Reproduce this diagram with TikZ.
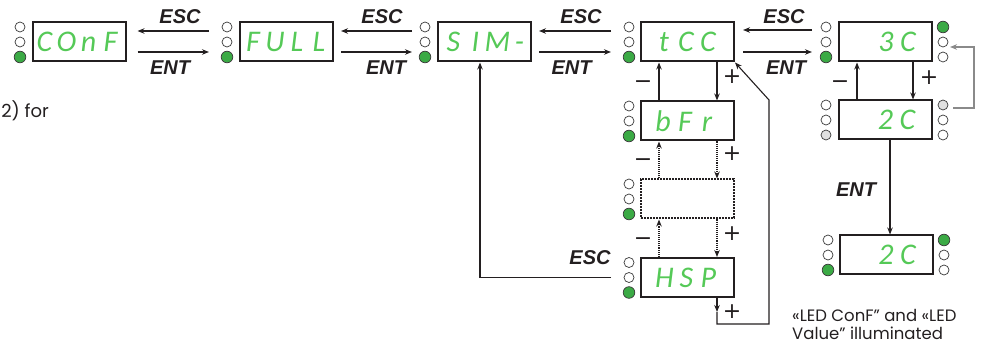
\documentclass[tikz,border=0pt]{standalone}
\usepackage{fontspec}
\usetikzlibrary{arrows.meta,calc}
\setmainfont{Liberation Sans}
\newfontfamily\labfont{Liberation Sans}
\newfontfamily\segfont{Carlito}
\newfontfamily\signfont{DejaVu Sans}
\newfontfamily\notefont{Poppins}
\definecolor{linec}{HTML}{231F20}
\definecolor{segc}{HTML}{55C957}
\definecolor{ledg}{HTML}{3BAA45}
\definecolor{ledgr}{HTML}{E0E0E0}
\definecolor{ledline}{HTML}{3A3A3A}
\definecolor{loopc}{HTML}{8A8A8A}
\newcommand\cell[1]{\makebox[22pt]{#1}}
\newcommand\ledcol[5]{%
  \path[#3] (#1,#2-15) circle;
  \path[#4] (#1,#2) circle;
  \path[#5] (#1,#2+15) circle;}
\tikzset{
  ln/.style={draw=linec,line width=1.1pt},
  arr/.style={ln,-{Stealth[length=7pt,width=5.5pt]}},
  darr/.style={arr,densely dotted,line width=1.2pt},
  disp/.style={draw=linec,line width=2pt,minimum width=93pt,minimum height=39pt,inner sep=0pt},
  dotdisp/.style={disp,densely dotted},
  seg/.style={text=segc,font=\segfont\itshape\fontsize{30}{30}\selectfont,inner sep=0pt},
  key/.style={font=\labfont\bfseries\itshape\fontsize{20}{20}\selectfont,text=linec,inner sep=0pt},
  sign/.style={font=\signfont\fontsize{22}{22}\selectfont,text=linec,inner sep=0pt},
  note/.style={font=\notefont\fontsize{16.5}{18}\selectfont,align=left,inner sep=0pt,text=linec},
  off/.style={draw=ledline,fill=white,line width=0.7pt,radius=5pt},
  on/.style={draw=ledline,fill=ledg,line width=0.7pt,radius=5.8pt},
  gr/.style={draw=ledline,fill=ledgr,line width=0.7pt,radius=5pt},
}
\begin{document}
\begin{tikzpicture}[x=1pt,y=-1pt]
\useasboundingbox (0,0) rectangle (993,347);
% display boxes
\node[disp] (conf) at (79,42) {};
\node[disp] (full) at (286.5,42) {};
\node[disp] (sim) at (484.5,42) {};
\node[disp] (tcc) at (687.5,42) {};
\node[disp] (bfr) at (687.5,121) {};
\node[dotdisp] (dot) at (687.5,199) {};
\node[disp] (hsp) at (687.5,277.5) {};
\node[disp] (c3) at (885.5,42) {};
\node[disp] (c2) at (885.5,120) {};
\node[disp] (c2b) at (886.5,255) {};
% display texts
\node[seg] (conft) at (77.5,42) {\cell{C}\cell{O}\cell{n}\cell{F}};
\node[seg] (fullt) at (286,42) {\cell{F}\cell{U}\cell{L}\cell{L}};
\node[seg] (simt) at (486.5,42) {\cell{S}\cell{I}\cell{M}\cell{-}};
\node[seg] (tcct) at (686,42) {\cell{t}\cell{C}\cell{C}};
\node[seg] (bfrt) at (685,121) {\cell{b}\cell{F}\cell{r}};
\node[seg] (hspt) at (686.5,277.5) {\cell{H}\cell{S}\cell{P}};
\node[seg] (c3t) at (897,42) {\cell{3}\cell{C}};
\node[seg] (c2t) at (896.5,120) {\cell{2}\cell{C}};
\node[seg] (c2bt) at (897,255) {\cell{2}\cell{C}};
% LEDs
\ledcol{20}{42}{off}{off}{on}
\ledcol{227}{42}{off}{off}{on}
\ledcol{425}{42}{off}{off}{on}
\ledcol{629}{42}{off}{off}{on}
\ledcol{629}{121}{off}{off}{on}
\ledcol{629}{199}{off}{off}{on}
\ledcol{629}{277.5}{off}{off}{on}
\ledcol{826}{42}{off}{off}{on}
\ledcol{943}{42}{on}{off}{off}
\ledcol{826}{120}{off}{off}{gr}
\ledcol{943}{120}{gr}{off}{off}
\ledcol{828}{255}{off}{off}{on}
\ledcol{944}{255}{on}{off}{off}
% ESC / ENT arrows along top
\draw[arr] ($(full.west)+(-30,-11)$) -- ($(conf.east)+(11,-11)$);
\draw[arr] ($(conf.east)+(11,10)$) -- ($(full.west)+(-30,10)$);
\draw[arr] ($(sim.west)+(-25,-11)$) -- ($(full.east)+(7,-11)$);
\draw[arr] ($(full.east)+(7,10)$) -- ($(sim.west)+(-25,10)$);
\draw[arr] ($(tcc.west)+(-29,-11)$) -- ($(sim.east)+(7,-11)$);
\draw[arr] ($(sim.east)+(7,10)$) -- ($(tcc.west)+(-29,10)$);
\draw[arr] ($(c3.west)+(-26,-12)$) -- ($(tcc.east)+(8,-12)$);
\draw[arr] ($(tcc.east)+(8,10)$) -- ($(c3.west)+(-26,10)$);
\node[key] (esc1) at (180,17) {ESC};
\node[key] (ent1) at (170,68) {ENT};
\node[key] (esc2) at (382,17) {ESC};
\node[key] (ent2) at (386,68) {ENT};
\node[key] (esc3) at (581,17) {ESC};
\node[key] (ent3) at (571.5,68) {ENT};
\node[key] (esc4) at (784,17) {ESC};
\node[key] (ent4) at (786,68) {ENT};
% tCC column
\draw[arr] (bfr.north -| 659,0) -- (tcc.south -| 659,0);
\draw[arr] (tcc.south -| 717,0) -- (bfr.north -| 717,0);
\draw[darr] (dot.north -| 659,0) -- (bfr.south -| 659,0);
\draw[darr] (bfr.south -| 717,0) -- (dot.north -| 717,0);
\draw[darr] (hsp.north -| 659,0) -- (dot.south -| 659,0);
\draw[darr] (dot.south -| 717,0) -- (hsp.north -| 717,0);
\coordinate (hd) at (717,312);
\draw[arr] (hsp.south -| 717,0) -- (hd);
\draw[arr] (hd) -- (717,324) -- (769,324) -- (769,100) -- (tcc.south east);
\node[sign] (m1) at (643,85) {−};
\node[sign] (m2) at (643,163) {−};
\node[sign] (m3) at (643,242) {−};
\node[sign] (p1) at (732,77) {+};
\node[sign] (p2) at (732,154) {+};
\node[sign] (p3) at (732,234) {+};
\node[sign] (p4) at (732,312) {+};
% ESC back to SIM
\draw[arr] ($(hsp.west)+(-29,0)$) -- (480,277.5) -- (sim.south -| 480,0);
\node[key] (esc5) at (590,258) {ESC};
% 3C column
\draw[arr] (c2.north -| 857,0) -- (c3.south -| 857,0);
\draw[arr] (c3.south -| 913,0) -- (c2.north -| 913,0);
\node[sign] (m4) at (840,85) {−};
\node[sign] (p5) at (929,78) {+};
\coordinate (lp0) at (953,108);
\coordinate (lp1) at (950,47);
\draw[draw=loopc,line width=1.1pt,-{Stealth[length=7pt,width=5.5pt]}] (lp0) -- (974,108) -- (974,47) -- (lp1);
\draw[arr] (c2.south -| 890,0) -- (c2b.north -| 890,0);
\node[key] (ent5) at (856,190) {ENT};
% notes
\node[note,anchor=north west] (note) at (792,309) {«LED ConF” and «LED\\Value” illuminated};
\node[note,anchor=base east,font=\notefont\fontsize{18}{18}\selectfont] (frag) at (49,118) {2) for};
\end{tikzpicture}
\end{document}
